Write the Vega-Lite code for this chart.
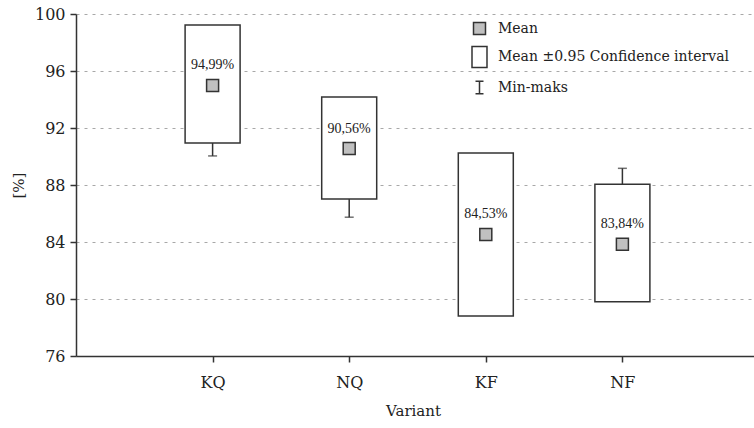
{
  "$schema": "https://vega.github.io/schema/vega-lite/v6.json",
  "width": 683,
  "height": 342,
  "autosize": {"type": "none"},
  "padding": {"left": 76, "top": 14, "right": 0, "bottom": 72},
  "background": "white",
  "config": {
    "font": "DejaVu Serif",
    "view": {"stroke": null},
    "axis": {
      "labelFont": "DejaVu Serif",
      "titleFont": "DejaVu Serif",
      "labelFontSize": 16,
      "titleFontSize": 15,
      "titleFontWeight": "normal",
      "labelColor": "#222",
      "titleColor": "#222",
      "domainColor": "#333",
      "domainWidth": 1.5,
      "tickColor": "#333",
      "tickWidth": 1.5,
      "tickSize": 6
    },
    "legend": {
      "orient": "none",
      "legendX": 392,
      "legendY": 3,
      "padding": 0,
      "symbolSize": 441,
      "symbolOpacity": 1,
      "symbolStrokeWidth": 1.5,
      "labelFont": "DejaVu Serif",
      "labelFontSize": 14,
      "labelColor": "#222",
      "labelOffset": 7,
      "rowPadding": 5.5,
      "labelLimit": 400
    }
  },
  "datasets": {
    "stats": [
      {"variant": "KQ", "mean": 94.99, "label": "94,99%", "ciLow": 90.95, "ciHigh": 99.23, "min": 90.04, "max": 98.5},
      {"variant": "NQ", "mean": 90.56, "label": "90,56%", "ciLow": 87.02, "ciHigh": 94.18, "min": 85.74, "max": 93.5},
      {"variant": "KF", "mean": 84.53, "label": "84,53%", "ciLow": 78.81, "ciHigh": 90.25, "min": 79.5, "max": 89.5},
      {"variant": "NF", "mean": 83.84, "label": "83,84%", "ciLow": 79.81, "ciHigh": 88.05, "min": 80.5, "max": 89.17}
    ],
    "legendItems": [
      {"item": "Mean"},
      {"item": "Mean ±0.95 Confidence interval"},
      {"item": "Min-maks"}
    ]
  },
  "layer": [
    {
      "data": {"name": "stats"},
      "mark": {"type": "rule", "color": "#333", "strokeWidth": 1.5},
      "encoding": {
        "x": {
          "field": "variant", "type": "nominal",
          "sort": ["KQ", "NQ", "KF", "NF"],
          "scale": {"type": "point", "padding": 1},
          "axis": {"title": "Variant", "labelAngle": 0, "labelPadding": 12, "titlePadding": 13, "titleX": 337}
        },
        "y": {
          "field": "min", "type": "quantitative",
          "scale": {"domain": [76, 100], "nice": false, "zero": false},
          "axis": {
            "title": "[%]", "values": [76, 80, 84, 88, 92, 96, 100],
            "grid": true, "gridDash": [3, 5], "gridColor": "#a8a8a8", "gridWidth": 1,
            "labelPadding": 5, "titlePadding": 8
          }
        },
        "y2": {"field": "max"}
      }
    },
    {
      "data": {"name": "stats"},
      "mark": {"type": "tick", "color": "#333", "thickness": 1.5, "size": 9},
      "encoding": {
        "x": {"field": "variant", "type": "nominal", "sort": ["KQ", "NQ", "KF", "NF"]},
        "y": {"field": "min", "type": "quantitative"}
      }
    },
    {
      "data": {"name": "stats"},
      "mark": {"type": "tick", "color": "#333", "thickness": 1.5, "size": 9},
      "encoding": {
        "x": {"field": "variant", "type": "nominal", "sort": ["KQ", "NQ", "KF", "NF"]},
        "y": {"field": "max", "type": "quantitative"}
      }
    },
    {
      "data": {"name": "stats"},
      "mark": {"type": "bar", "width": 55, "fill": "white", "stroke": "#333", "strokeWidth": 1.5},
      "encoding": {
        "x": {"field": "variant", "type": "nominal", "sort": ["KQ", "NQ", "KF", "NF"]},
        "y": {"field": "ciLow", "type": "quantitative"},
        "y2": {"field": "ciHigh"}
      }
    },
    {
      "data": {"name": "stats"},
      "mark": {"type": "point", "shape": "square", "size": 144, "filled": true, "fill": "#c0c0c0", "stroke": "#333", "strokeWidth": 1.5, "opacity": 1},
      "encoding": {
        "x": {"field": "variant", "type": "nominal", "sort": ["KQ", "NQ", "KF", "NF"]},
        "y": {"field": "mean", "type": "quantitative"}
      }
    },
    {
      "data": {"name": "stats"},
      "mark": {"type": "text", "dy": -20, "font": "Liberation Serif", "fontSize": 14, "color": "#222", "baseline": "middle"},
      "encoding": {
        "x": {"field": "variant", "type": "nominal", "sort": ["KQ", "NQ", "KF", "NF"]},
        "y": {"field": "mean", "type": "quantitative"},
        "text": {"field": "label"}
      }
    },
    {
      "data": {"name": "legendItems"},
      "mark": {"type": "point", "opacity": 0, "strokeWidth": 1.5},
      "encoding": {
        "shape": {
          "field": "item", "type": "nominal", "title": null,
          "scale": {
            "domain": ["Mean", "Mean ±0.95 Confidence interval", "Min-maks"],
            "range": ["M-0.571,-0.571H0.571V0.571H-0.571Z", "M-0.714,-1H0.714V1H-0.714Z", "M-0.38,-0.6H0.38M0,-0.6V0.6M-0.38,0.6H0.38"]
          }
        },
        "fill": {
          "field": "item", "type": "nominal", "title": null,
          "scale": {
            "domain": ["Mean", "Mean ±0.95 Confidence interval", "Min-maks"],
            "range": ["#c0c0c0", "white", "transparent"]
          }
        },
        "stroke": {
          "field": "item", "type": "nominal", "title": null,
          "scale": {
            "domain": ["Mean", "Mean ±0.95 Confidence interval", "Min-maks"],
            "range": ["#333333", "#333333", "#333333"]
          }
        }
      }
    }
  ]
}
